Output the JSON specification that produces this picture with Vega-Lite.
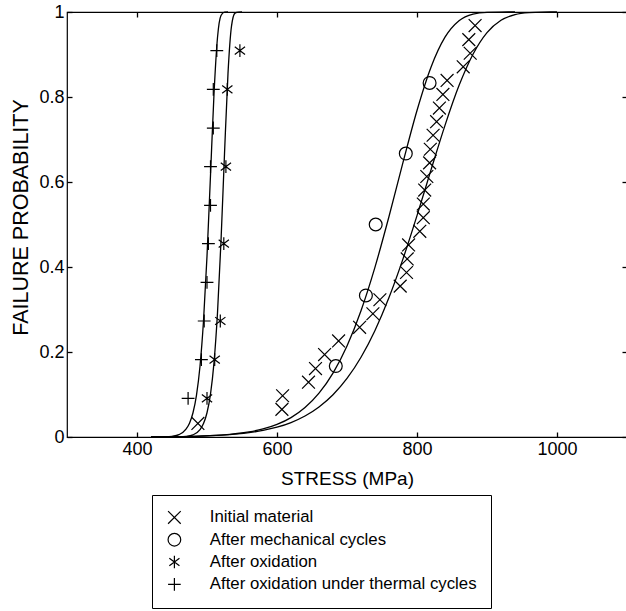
{
  "$schema": "https://vega.github.io/schema/vega-lite/v6.json",
  "width": 560,
  "height": 425,
  "autosize": {"type": "none"},
  "padding": {"left": 67, "top": 12, "right": 0, "bottom": 174},
  "background": "white",
  "config": {
    "view": {"stroke": "black", "strokeWidth": 1.2},
    "font": "Liberation Sans",
    "axis": {
      "grid": false,
      "domain": false,
      "ticks": true,
      "tickColor": "black",
      "tickSize": 5,
      "tickWidth": 1.3,
      "offset": -5,
      "labelColor": "black",
      "labelFont": "Liberation Sans",
      "labelFontSize": 18,
      "titleFont": "Liberation Sans",
      "titleFontSize": 19,
      "titleFontWeight": "normal",
      "titleColor": "black"
    },
    "legend": {
      "strokeColor": "black",
      "fillColor": "white",
      "padding": 14,
      "labelFont": "Liberation Sans",
      "labelFontSize": 16.8,
      "labelColor": "black",
      "labelLimit": 0,
      "labelOffset": 27,
      "rowPadding": 3.3,
      "symbolStrokeColor": "black",
      "symbolFillColor": "transparent",
      "symbolStrokeWidth": 1.2,
      "symbolSize": 160
    }
  },
  "datasets": {
    "curves": [
      {"curve": "A", "stress": 420, "p": 0},
      {"curve": "A", "stress": 440, "p": 0.0005},
      {"curve": "A", "stress": 450, "p": 0.0017},
      {"curve": "A", "stress": 460, "p": 0.0056},
      {"curve": "A", "stress": 470, "p": 0.0183},
      {"curve": "A", "stress": 475, "p": 0.0325},
      {"curve": "A", "stress": 480, "p": 0.057},
      {"curve": "A", "stress": 485, "p": 0.0985},
      {"curve": "A", "stress": 490, "p": 0.1666},
      {"curve": "A", "stress": 495, "p": 0.2728},
      {"curve": "A", "stress": 500, "p": 0.4253},
      {"curve": "A", "stress": 505, "p": 0.6161},
      {"curve": "A", "stress": 510, "p": 0.807},
      {"curve": "A", "stress": 515, "p": 0.94},
      {"curve": "A", "stress": 520, "p": 0.9917},
      {"curve": "A", "stress": 525, "p": 0.9997},
      {"curve": "A", "stress": 530, "p": 1},
      {"curve": "B", "stress": 440, "p": 0},
      {"curve": "B", "stress": 460, "p": 0.0004},
      {"curve": "B", "stress": 470, "p": 0.0014},
      {"curve": "B", "stress": 480, "p": 0.005},
      {"curve": "B", "stress": 490, "p": 0.0173},
      {"curve": "B", "stress": 495, "p": 0.0316},
      {"curve": "B", "stress": 500, "p": 0.057},
      {"curve": "B", "stress": 505, "p": 0.101},
      {"curve": "B", "stress": 510, "p": 0.1751},
      {"curve": "B", "stress": 515, "p": 0.2923},
      {"curve": "B", "stress": 520, "p": 0.4606},
      {"curve": "B", "stress": 525, "p": 0.6658},
      {"curve": "B", "stress": 530, "p": 0.8556},
      {"curve": "B", "stress": 535, "p": 0.9666},
      {"curve": "B", "stress": 540, "p": 0.9974},
      {"curve": "B", "stress": 545, "p": 0.9999},
      {"curve": "B", "stress": 550, "p": 1},
      {"curve": "C", "stress": 420, "p": 0},
      {"curve": "C", "stress": 440, "p": 0.0005},
      {"curve": "C", "stress": 480, "p": 0.0015},
      {"curve": "C", "stress": 520, "p": 0.0044},
      {"curve": "C", "stress": 560, "p": 0.0118},
      {"curve": "C", "stress": 580, "p": 0.0189},
      {"curve": "C", "stress": 600, "p": 0.0297},
      {"curve": "C", "stress": 620, "p": 0.0457},
      {"curve": "C", "stress": 640, "p": 0.0694},
      {"curve": "C", "stress": 660, "p": 0.1032},
      {"curve": "C", "stress": 680, "p": 0.1504},
      {"curve": "C", "stress": 700, "p": 0.2142},
      {"curve": "C", "stress": 720, "p": 0.2971},
      {"curve": "C", "stress": 740, "p": 0.3998},
      {"curve": "C", "stress": 760, "p": 0.5189},
      {"curve": "C", "stress": 780, "p": 0.6461},
      {"curve": "C", "stress": 800, "p": 0.7683},
      {"curve": "C", "stress": 820, "p": 0.8701},
      {"curve": "C", "stress": 840, "p": 0.9407},
      {"curve": "C", "stress": 860, "p": 0.9794},
      {"curve": "C", "stress": 880, "p": 0.995},
      {"curve": "C", "stress": 900, "p": 0.9992},
      {"curve": "C", "stress": 920, "p": 0.9999},
      {"curve": "C", "stress": 940, "p": 1},
      {"curve": "D", "stress": 420, "p": 0},
      {"curve": "D", "stress": 440, "p": 0.0006},
      {"curve": "D", "stress": 480, "p": 0.0016},
      {"curve": "D", "stress": 520, "p": 0.0042},
      {"curve": "D", "stress": 560, "p": 0.0101},
      {"curve": "D", "stress": 580, "p": 0.0154},
      {"curve": "D", "stress": 600, "p": 0.023},
      {"curve": "D", "stress": 620, "p": 0.034},
      {"curve": "D", "stress": 640, "p": 0.0493},
      {"curve": "D", "stress": 660, "p": 0.0706},
      {"curve": "D", "stress": 680, "p": 0.0994},
      {"curve": "D", "stress": 700, "p": 0.1378},
      {"curve": "D", "stress": 720, "p": 0.1877},
      {"curve": "D", "stress": 740, "p": 0.2508},
      {"curve": "D", "stress": 760, "p": 0.3281},
      {"curve": "D", "stress": 780, "p": 0.4191},
      {"curve": "D", "stress": 800, "p": 0.521},
      {"curve": "D", "stress": 820, "p": 0.6284},
      {"curve": "D", "stress": 840, "p": 0.7333},
      {"curve": "D", "stress": 860, "p": 0.8268},
      {"curve": "D", "stress": 880, "p": 0.9007},
      {"curve": "D", "stress": 900, "p": 0.9515},
      {"curve": "D", "stress": 920, "p": 0.9805},
      {"curve": "D", "stress": 940, "p": 0.9939},
      {"curve": "D", "stress": 960, "p": 0.9986},
      {"curve": "D", "stress": 980, "p": 0.9998},
      {"curve": "D", "stress": 1000, "p": 1}
    ],
    "points": [
      {"series": "Initial material", "stress": 487, "p": 0.032},
      {"series": "Initial material", "stress": 607, "p": 0.065},
      {"series": "Initial material", "stress": 608, "p": 0.097},
      {"series": "Initial material", "stress": 645, "p": 0.129},
      {"series": "Initial material", "stress": 655, "p": 0.161},
      {"series": "Initial material", "stress": 668, "p": 0.194},
      {"series": "Initial material", "stress": 688, "p": 0.226},
      {"series": "Initial material", "stress": 718, "p": 0.258},
      {"series": "Initial material", "stress": 737, "p": 0.29},
      {"series": "Initial material", "stress": 747, "p": 0.323},
      {"series": "Initial material", "stress": 776, "p": 0.355},
      {"series": "Initial material", "stress": 785, "p": 0.387},
      {"series": "Initial material", "stress": 786, "p": 0.419},
      {"series": "Initial material", "stress": 788, "p": 0.452},
      {"series": "Initial material", "stress": 804, "p": 0.484},
      {"series": "Initial material", "stress": 809, "p": 0.516},
      {"series": "Initial material", "stress": 809, "p": 0.548},
      {"series": "Initial material", "stress": 811, "p": 0.581},
      {"series": "Initial material", "stress": 814, "p": 0.613},
      {"series": "Initial material", "stress": 818, "p": 0.645},
      {"series": "Initial material", "stress": 819, "p": 0.677},
      {"series": "Initial material", "stress": 823, "p": 0.71},
      {"series": "Initial material", "stress": 828, "p": 0.742},
      {"series": "Initial material", "stress": 832, "p": 0.774},
      {"series": "Initial material", "stress": 837, "p": 0.806},
      {"series": "Initial material", "stress": 843, "p": 0.839},
      {"series": "Initial material", "stress": 866, "p": 0.871},
      {"series": "Initial material", "stress": 876, "p": 0.903},
      {"series": "Initial material", "stress": 874, "p": 0.935},
      {"series": "Initial material", "stress": 883, "p": 0.968},
      {"series": "After mechanical cycles", "stress": 684, "p": 0.167},
      {"series": "After mechanical cycles", "stress": 727, "p": 0.333},
      {"series": "After mechanical cycles", "stress": 741, "p": 0.5},
      {"series": "After mechanical cycles", "stress": 784, "p": 0.667},
      {"series": "After mechanical cycles", "stress": 818, "p": 0.833},
      {"series": "After oxidation", "stress": 500, "p": 0.091},
      {"series": "After oxidation", "stress": 511, "p": 0.182},
      {"series": "After oxidation", "stress": 519, "p": 0.273},
      {"series": "After oxidation", "stress": 524, "p": 0.455},
      {"series": "After oxidation", "stress": 527, "p": 0.636},
      {"series": "After oxidation", "stress": 529, "p": 0.818},
      {"series": "After oxidation", "stress": 547, "p": 0.909},
      {"series": "After oxidation under thermal cycles", "stress": 473, "p": 0.091},
      {"series": "After oxidation under thermal cycles", "stress": 492, "p": 0.182},
      {"series": "After oxidation under thermal cycles", "stress": 496, "p": 0.273},
      {"series": "After oxidation under thermal cycles", "stress": 500, "p": 0.364},
      {"series": "After oxidation under thermal cycles", "stress": 502, "p": 0.455},
      {"series": "After oxidation under thermal cycles", "stress": 505, "p": 0.545},
      {"series": "After oxidation under thermal cycles", "stress": 505, "p": 0.636},
      {"series": "After oxidation under thermal cycles", "stress": 509, "p": 0.727},
      {"series": "After oxidation under thermal cycles", "stress": 509, "p": 0.818},
      {"series": "After oxidation under thermal cycles", "stress": 514, "p": 0.909}
    ]
  },
  "layer": [
    {
      "data": {"name": "curves"},
      "mark": {"type": "line", "color": "black", "strokeWidth": 1.3, "interpolate": "monotone"},
      "encoding": {
        "x": {
          "field": "stress", "type": "quantitative",
          "scale": {"domain": [300, 1100], "nice": false, "zero": false},
          "axis": {"orient": "bottom", "values": [400, 600, 800, 1000], "format": "d", "title": "STRESS (MPa)", "labelPadding": 3, "titlePadding": 11}
        },
        "y": {
          "field": "p", "type": "quantitative",
          "scale": {"domain": [0, 1], "nice": false},
          "axis": {"orient": "left", "values": [0, 0.2, 0.4, 0.6, 0.8, 1], "format": "~g", "title": "FAILURE PROBABILITY", "titleFontSize": 21.5, "titleY": 205, "labelPadding": 3, "titlePadding": 6}
        },
        "detail": {"field": "curve", "type": "nominal"}
      }
    },
    {
      "data": {"name": "points"},
      "mark": {"type": "point", "filled": false, "color": "black", "strokeWidth": 1.2, "size": 165, "opacity": 1},
      "encoding": {
        "x": {
          "field": "stress", "type": "quantitative",
          "axis": {"orient": "top", "values": [400, 600, 800, 1000], "labels": false, "title": null}
        },
        "y": {
          "field": "p", "type": "quantitative",
          "axis": {"orient": "right", "values": [0, 0.2, 0.4, 0.6, 0.8, 1], "labels": false, "title": null}
        },
        "shape": {
          "field": "series", "type": "nominal",
          "scale": {
            "domain": ["Initial material", "After mechanical cycles", "After oxidation", "After oxidation under thermal cycles"],
            "range": ["M-1,-1L1,1M-1,1L1,-1", "circle", "M-0.8,-0.6L0.8,0.6M-0.8,0.6L0.8,-0.6M0,-1L0,1", "M-1,0L1,0M0,-1L0,1"]
          },
          "legend": {"orient": "none", "legendX": 85, "legendY": 483, "title": null}
        }
      }
    }
  ]
}
